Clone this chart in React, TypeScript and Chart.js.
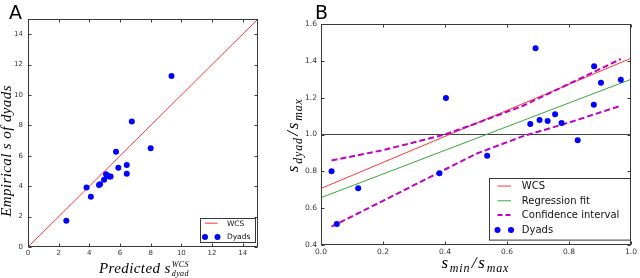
import { useEffect, useRef } from "react";
import { Chart, registerables } from "chart.js";
Chart.register(...registerables);

// ---------- Panel A data ----------
const predictedA = [2.5, 3.82, 4.1, 4.63, 4.7, 4.96, 5.09, 5.17, 5.3, 5.39, 5.74, 5.89, 6.44, 6.44, 6.77, 8.0, 9.36];
const empiricalA = [1.72, 3.92, 3.31, 4.08, 4.13, 4.43, 4.78, 4.69, 4.63, 4.63, 6.27, 5.22, 5.39, 4.82, 8.25, 6.49, 11.25];
const wcsAX = [0, 15];
const wcsAY = [0, 15];
const ticksA = [0, 2, 4, 6, 8, 10, 12, 14];

// ---------- Panel B data ----------
const ratioB = [0.034, 0.051, 0.12, 0.382, 0.403, 0.536, 0.675, 0.692, 0.705, 0.731, 0.755, 0.776, 0.828, 0.88, 0.881, 0.903, 0.967];
const dyadB = [0.8, 0.514, 0.708, 0.79, 1.198, 0.884, 1.057, 1.468, 1.079, 1.073, 1.11, 1.062, 0.969, 1.161, 1.371, 1.281, 1.297];
const wcsBX = [0, 1];
const wcsBY = [0.707, 1.414];
const regBX = [0, 1];
const regBY = [0.657, 1.3];
const ciX = [0.034, 0.2, 0.4, 0.5, 0.65, 0.8, 0.967];
const ciUpper = [0.859, 0.915, 1.0, 1.06, 1.155, 1.275, 1.41];
const ciLower = [0.5, 0.64, 0.81, 0.895, 0.99, 1.065, 1.156];
const refBX = [0, 1];
const refBY = [1, 1];
const ticksBX = [0, 0.2, 0.4, 0.6, 0.8, 1.0];
const ticksBY = [0.4, 0.6, 0.8, 1.0, 1.2, 1.4, 1.6];

const pts = (xs: number[], ys: number[]) => xs.map((x, i) => ({ x, y: ys[i] }));

const BLUE = "#0000ff";
const RED = "#ff3838";
const GREEN = "#38a838";
const MAGENTA = "#bf00bf";
const FRAME = "#383838";
const SANS = "DejaVu Sans";
const SERIF = "Liberation Serif";

function framePlugin(tickLen: number) {
  return {
    id: "frameTicks",
    afterDatasetsDraw(chart: any) {
      const { ctx, chartArea: a, scales } = chart;
      ctx.save();
      ctx.strokeStyle = FRAME;
      ctx.lineWidth = 1;
      const L = Math.round(a.left) + 0.5;
      const R = Math.round(a.right) - 0.5;
      const T = Math.round(a.top) + 0.5;
      const B = Math.round(a.bottom) - 0.5;
      ctx.strokeRect(L, T, R - L, B - T);
      ctx.beginPath();
      scales.x.ticks.forEach((t: any) => {
        const p = Math.round(scales.x.getPixelForValue(t.value)) + 0.5;
        ctx.moveTo(p, B);
        ctx.lineTo(p, B - tickLen);
        ctx.moveTo(p, T);
        ctx.lineTo(p, T + tickLen);
      });
      scales.y.ticks.forEach((t: any) => {
        const p = Math.round(scales.y.getPixelForValue(t.value)) + 0.5;
        ctx.moveTo(L, p);
        ctx.lineTo(L + tickLen, p);
        ctx.moveTo(R, p);
        ctx.lineTo(R - tickLen, p);
      });
      ctx.stroke();
      ctx.restore();
    },
  };
}

type LegItem = { label: string; kind: "line" | "dash" | "dots"; color: string; width?: number };
function legendPlugin(cfg: {
  w: number; h: number; insetR: number; insetB: number; rows: number[];
  x0: number; x1: number; tx: number; font: number; items: LegItem[];
}) {
  return {
    id: "mplLegend",
    afterDraw(chart: any) {
      const { ctx, chartArea: a } = chart;
      const bx = Math.round(a.right - cfg.insetR - cfg.w) + 0.5;
      const by = Math.round(a.bottom - cfg.insetB - cfg.h) + 0.5;
      ctx.save();
      ctx.fillStyle = "#fff";
      ctx.fillRect(bx, by, cfg.w, cfg.h);
      ctx.strokeStyle = FRAME;
      ctx.lineWidth = 1;
      ctx.strokeRect(bx, by, cfg.w, cfg.h);
      ctx.font = `${cfg.font}px "${SANS}"`;
      ctx.textBaseline = "middle";
      ctx.textAlign = "left";
      cfg.items.forEach((it, i) => {
        const y = by + cfg.rows[i];
        if (it.kind === "dots") {
          ctx.fillStyle = it.color;
          [cfg.x0, cfg.x1].forEach((x) => {
            ctx.beginPath();
            ctx.arc(bx + x, y, 3, 0, Math.PI * 2);
            ctx.fill();
          });
        } else {
          ctx.strokeStyle = it.color;
          ctx.lineWidth = it.width || 1;
          ctx.setLineDash(it.kind === "dash" ? [5, 3] : []);
          ctx.beginPath();
          ctx.moveTo(bx + cfg.x0, y);
          ctx.lineTo(bx + cfg.x1, y);
          ctx.stroke();
          ctx.setLineDash([]);
        }
        ctx.fillStyle = "#111";
        ctx.fillText(it.label, bx + cfg.tx, y + 0.5);
      });
      ctx.restore();
    },
  };
}

function textPlugin(draw: (ctx: CanvasRenderingContext2D, chart: any) => void) {
  return {
    id: "texts",
    afterDraw(chart: any) {
      const ctx = chart.ctx as CanvasRenderingContext2D;
      ctx.save();
      draw(ctx, chart);
      ctx.restore();
    },
  };
}

// draws main text followed by subscript pieces, centered at 0 along x
function drawMathSeq(ctx: CanvasRenderingContext2D, seq: { t: string; sub?: boolean }[], big: number, small: number, subDy: number) {
  const fBig = `italic ${big}px "${SERIF}"`;
  const fSmall = `italic ${small}px "${SERIF}"`;
  (ctx as any).letterSpacing = "0.8px";
  let total = 0;
  const widths = seq.map((s) => {
    ctx.font = s.sub ? fSmall : fBig;
    const w = ctx.measureText(s.t).width + (s.sub ? 1.5 : 1);
    total += w;
    return w;
  });
  let x = -total / 2;
  ctx.textAlign = "left";
  ctx.textBaseline = "alphabetic";
  seq.forEach((s, i) => {
    ctx.font = s.sub ? fSmall : fBig;
    ctx.fillText(s.t, x, s.sub ? subDy : 0);
    x += widths[i];
  });
  (ctx as any).letterSpacing = "0px";
}

const tickFont = (size: number) => ({ family: SANS, size });
const noGrid = { display: false, drawTicks: false, tickLength: 0 };

const configA: any = {
  type: "scatter",
  data: {
    datasets: [
      {
        label: "Dyads",
        data: pts(predictedA, empiricalA),
        pointRadius: 3,
        pointBackgroundColor: BLUE,
        pointBorderColor: BLUE,
        pointBorderWidth: 0,
        showLine: false,
      },
      {
        label: "WCS",
        data: pts(wcsAX, wcsAY),
        showLine: true,
        borderColor: RED,
        borderWidth: 1,
        pointRadius: 0,
      },
    ],
  },
  options: {
    responsive: false,
    animation: false,
    devicePixelRatio: 1,
    layout: { padding: { left: 0, top: 19, right: 22, bottom: 0 } },
    plugins: { legend: { display: false }, tooltip: { enabled: false } },
    scales: {
      x: {
        type: "linear", min: 0, max: 15,
        grid: noGrid, border: { display: false },
        afterBuildTicks: (s: any) => { s.ticks = ticksA.map((v) => ({ value: v })); },
        afterFit: (s: any) => { s.height = 31; },
        ticks: { autoSkip: false, maxRotation: 0, padding: 2, font: tickFont(7), color: "#333", callback: (v: any) => String(v) },
      },
      y: {
        type: "linear", min: 0, max: 15,
        grid: noGrid, border: { display: false },
        afterBuildTicks: (s: any) => { s.ticks = ticksA.map((v) => ({ value: v })); },
        afterFit: (s: any) => { s.width = 28; },
        ticks: { autoSkip: false, padding: 5, font: tickFont(7), color: "#333", callback: (v: any) => String(v) },
      },
    },
  },
  plugins: [
    framePlugin(3),
    legendPlugin({
      w: 55, h: 24, insetR: 3, insetB: 5, rows: [4.7, 18.4], x0: 4.5, x1: 17, tx: 26.4, font: 7.5,
      items: [
        { label: "WCS", kind: "line", color: RED, width: 1 },
        { label: "Dyads", kind: "dots", color: BLUE },
      ],
    }),
    textPlugin((ctx) => {
      ctx.fillStyle = "#000";
      ctx.font = `19px "${SANS}"`;
      ctx.textAlign = "left";
      ctx.textBaseline = "alphabetic";
      ctx.fillText("A", 9, 18.5);
      // y title
      ctx.save();
      ctx.translate(11, 151);
      ctx.rotate(-Math.PI / 2);
      ctx.font = `italic 15px "${SERIF}"`;
      (ctx as any).letterSpacing = "0.4px";
      ctx.textAlign = "center";
      ctx.fillText("Empirical s of dyads", 0, 0);
      ctx.restore();
      // x title: Predicted s^{WCS}_{dyad}
      (ctx as any).letterSpacing = "0.4px";
      const main = "Predicted s";
      ctx.font = `italic 15px "${SERIF}"`;
      const wm = ctx.measureText(main).width;
      ctx.font = `italic 8px "${SERIF}"`;
      const ws = Math.max(ctx.measureText("WCS").width, ctx.measureText("dyad").width);
      const x0 = 144 - (wm + ws + 1) / 2;
      ctx.textAlign = "left";
      ctx.font = `italic 15px "${SERIF}"`;
      ctx.fillText(main, x0, 272.5);
      ctx.font = `italic 8px "${SERIF}"`;
      ctx.fillText("WCS", x0 + wm + 1, 266.5);
      ctx.fillText("dyad", x0 + wm + 1, 276);
      (ctx as any).letterSpacing = "0px";
    }),
  ],
};

const configB: any = {
  type: "scatter",
  data: {
    datasets: [
      {
        label: "Dyads",
        data: pts(ratioB, dyadB),
        pointRadius: 3,
        pointBackgroundColor: BLUE,
        pointBorderColor: BLUE,
        pointBorderWidth: 0,
        showLine: false,
      },
      {
        label: "Confidence interval upper",
        data: pts(ciX, ciUpper),
        showLine: true,
        borderColor: MAGENTA,
        borderWidth: 2,
        borderDash: [6, 3],
        pointRadius: 0,
      },
      {
        label: "Confidence interval lower",
        data: pts(ciX, ciLower),
        showLine: true,
        borderColor: MAGENTA,
        borderWidth: 2,
        borderDash: [6, 3],
        pointRadius: 0,
      },
      {
        label: "WCS",
        data: pts(wcsBX, wcsBY),
        showLine: true,
        borderColor: RED,
        borderWidth: 1,
        pointRadius: 0,
      },
      {
        label: "Regression fit",
        data: pts(regBX, regBY),
        showLine: true,
        borderColor: GREEN,
        borderWidth: 1,
        pointRadius: 0,
      },
      {
        label: "ref",
        data: pts(refBX, refBY),
        showLine: true,
        borderColor: "#444",
        borderWidth: 1,
        pointRadius: 0,
      },
    ],
  },
  options: {
    responsive: false,
    animation: false,
    devicePixelRatio: 1,
    layout: { padding: { left: 0, top: 24, right: 7, bottom: 0 } },
    plugins: { legend: { display: false }, tooltip: { enabled: false } },
    scales: {
      x: {
        type: "linear", min: 0, max: 1,
        grid: noGrid, border: { display: false },
        afterBuildTicks: (s: any) => { s.ticks = ticksBX.map((v) => ({ value: v })); },
        afterFit: (s: any) => { s.height = 33; },
        ticks: { autoSkip: false, maxRotation: 0, padding: 3, font: tickFont(7.5), color: "#333", callback: (v: any) => Number(v).toFixed(1) },
      },
      y: {
        type: "linear", min: 0.4, max: 1.6,
        grid: noGrid, border: { display: false },
        afterBuildTicks: (s: any) => { s.ticks = ticksBY.map((v) => ({ value: v })); },
        afterFit: (s: any) => { s.width = 41; },
        ticks: { autoSkip: false, padding: 4, font: tickFont(7.5), color: "#333", callback: (v: any) => Number(v).toFixed(1) },
      },
    },
  },
  plugins: [
    framePlugin(3),
    legendPlugin({
      w: 141, h: 61.6, insetR: 1, insetB: 5.5, rows: [7.6, 22.3, 36.6, 51.6], x0: 8, x1: 21.5, tx: 32.3, font: 10,
      items: [
        { label: "WCS", kind: "line", color: RED, width: 1 },
        { label: "Regression fit", kind: "line", color: GREEN, width: 1 },
        { label: "Confidence interval", kind: "dash", color: MAGENTA, width: 2 },
        { label: "Dyads", kind: "dots", color: BLUE },
      ],
    }),
    textPlugin((ctx, chart) => {
      const a = chart.chartArea;
      ctx.fillStyle = "#000";
      ctx.font = `19px "${SANS}"`;
      ctx.textAlign = "left";
      ctx.textBaseline = "alphabetic";
      ctx.fillText("B", 35, 18.5);
      // y title
      ctx.save();
      ctx.translate(18, (a.top + a.bottom) / 2);
      ctx.rotate(-Math.PI / 2);
      drawMathSeq(ctx, [{ t: "s" }, { t: "dyad", sub: true }, { t: "/" }, { t: "s" }, { t: "max", sub: true }], 17, 12, 3.5);
      ctx.restore();
      // x title
      ctx.save();
      ctx.translate((a.left + a.right) / 2, 268);
      drawMathSeq(ctx, [{ t: "s" }, { t: "min", sub: true }, { t: "/" }, { t: "s" }, { t: "max", sub: true }], 17, 12, 3.5);
      ctx.restore();
    }),
  ],
};

export default function App() {
  const refA = useRef<HTMLCanvasElement>(null);
  const refB = useRef<HTMLCanvasElement>(null);
  useEffect(() => {
    const a = new Chart(refA.current as HTMLCanvasElement, configA);
    const b = new Chart(refB.current as HTMLCanvasElement, configB);
    return () => {
      a.destroy();
      b.destroy();
    };
  }, []);
  return (
    <div style={{ position: "absolute", left: 0, top: 0, width: 640, height: 278, background: "#fff" }}>
      <canvas ref={refA} width={280} height={278} style={{ position: "absolute", left: 0, top: 0, width: 280, height: 278 }} />
      <canvas ref={refB} width={360} height={278} style={{ position: "absolute", left: 280, top: 0, width: 360, height: 278 }} />
    </div>
  );
}
